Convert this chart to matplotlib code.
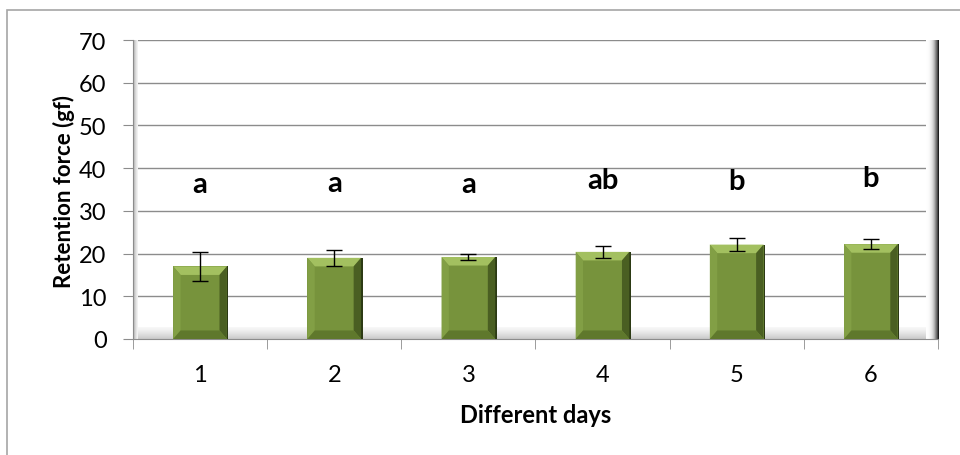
import matplotlib
matplotlib.use("Agg")
import matplotlib.pyplot as plt
import numpy as np
from matplotlib.patches import Polygon, Rectangle

days = ["1", "2", "3", "4", "5", "6"]
force = [17.0, 19.0, 19.2, 20.4, 22.1, 22.2]
err = [3.4, 1.8, 0.7, 1.4, 1.6, 1.1]
letters = ["a", "a", "a", "ab", "b", "b"]
letter_y = [36.3, 36.6, 36.3, 37.3, 37.0, 37.8]

plt.rcParams['font.family'] = ['Lato', 'DejaVu Sans']

fig = plt.figure(figsize=(9.6, 4.56), dpi=100)
ax = fig.add_axes([0.1385, 0.2544, 0.8385, 0.6556])

# outer chart border
fig.patches.append(Rectangle((7 / 960, -0.1), 1.1, 1 - 11 / 456 + 0.1,
                             transform=fig.transFigure, fill=False,
                             edgecolor='#a6a6a6', linewidth=1.2))

x = np.arange(1, len(days) + 1)
bw = 0.4

ax.set_xlim(0.5, len(days) + 0.5)
ax.set_ylim(0, 70)

# grid
for yv in range(10, 80, 10):
    ax.axhline(yv, color='#8c8c8c', linewidth=1, zorder=1)

# floor and walls (3D look)
floor = np.linspace(0, 1, 50).reshape(-1, 1)
ax.imshow(floor, extent=(0.5, len(days) + 0.5, 0, 2.6), aspect='auto',
          cmap='Greys', vmin=-0.2, vmax=3.5, origin='upper', zorder=1.5)
wall = np.linspace(0, 1, 50).reshape(1, -1) ** 2
ax.imshow(wall, extent=(len(days) + 0.41, len(days) + 0.5, 0, 70),
          aspect='auto', cmap='Greys', vmin=0, vmax=1.05, zorder=1.6)
lwall = np.linspace(1, 0, 30).reshape(1, -1)
ax.imshow(lwall, extent=(0.5, 0.535, 0, 70), aspect='auto', cmap='Greys',
          vmin=-0.2, vmax=2.5, zorder=1.6)

bars = ax.bar(x, force, width=bw, color='#77933c', edgecolor='none', zorder=3)

# bevel faces
bx = 0.055
by = 2.0
for b in bars:
    x0, y0 = b.get_x(), b.get_y()
    x1, y1 = x0 + b.get_width(), y0 + b.get_height()
    faces = [
        ([(x0, y1), (x1, y1), (x1 - bx, y1 - by), (x0 + bx, y1 - by)], '#a3c060'),
        ([(x0, y0), (x0, y1), (x0 + bx, y1 - by), (x0 + bx, y0 + by)], '#829f45'),
        ([(x1, y0), (x1, y1), (x1 - bx, y1 - by), (x1 - bx, y0 + by)], '#4a5f22'),
        ([(x0, y0), (x1, y0), (x1 - bx, y0 + by), (x0 + bx, y0 + by)], '#5f782c'),
    ]
    for pts, c in faces:
        ax.add_patch(Polygon(pts, closed=True, facecolor=c, edgecolor='none', zorder=3.5))
    ax.add_patch(Rectangle((x1, y0), 0.012, y1 - y0, facecolor='#2c3a14',
                           edgecolor='none', zorder=3.4))

ax.errorbar(x, force, yerr=err, fmt='none', ecolor='black', elinewidth=1,
            capsize=6, capthick=1, zorder=4)

for xi, ly, t in zip(x, letter_y, letters):
    ax.text(xi, ly, t, ha='center', va='center', fontsize=21,
            fontweight='bold', color='black', zorder=5)

for s in ['top', 'right']:
    ax.spines[s].set_visible(False)
ax.spines['left'].set_color('#8c8c8c')
ax.spines['bottom'].set_color('#8c8c8c')

ax.set_yticks(range(0, 80, 10))
ax.set_xticks(x)
ax.set_xticklabels(days)
ax.set_xticks(np.arange(0.5, len(days) + 1), minor=True)
ax.tick_params(axis='x', which='major', length=0, pad=18, labelsize=17)
ax.tick_params(axis='x', which='minor', length=7, color='#8c8c8c')
ax.tick_params(axis='y', length=7, color='#8c8c8c', labelsize=17, pad=12)

ax.set_xlabel("Different days", fontsize=17, fontweight='bold', va='center')
ax.xaxis.set_label_coords(0.5, -0.254)
ax.set_ylabel("Retention force (gf)", fontsize=16, fontweight='bold', va='center')
ax.yaxis.set_label_coords(-0.086, 0.498)

fig.savefig("out.png", dpi=100)
